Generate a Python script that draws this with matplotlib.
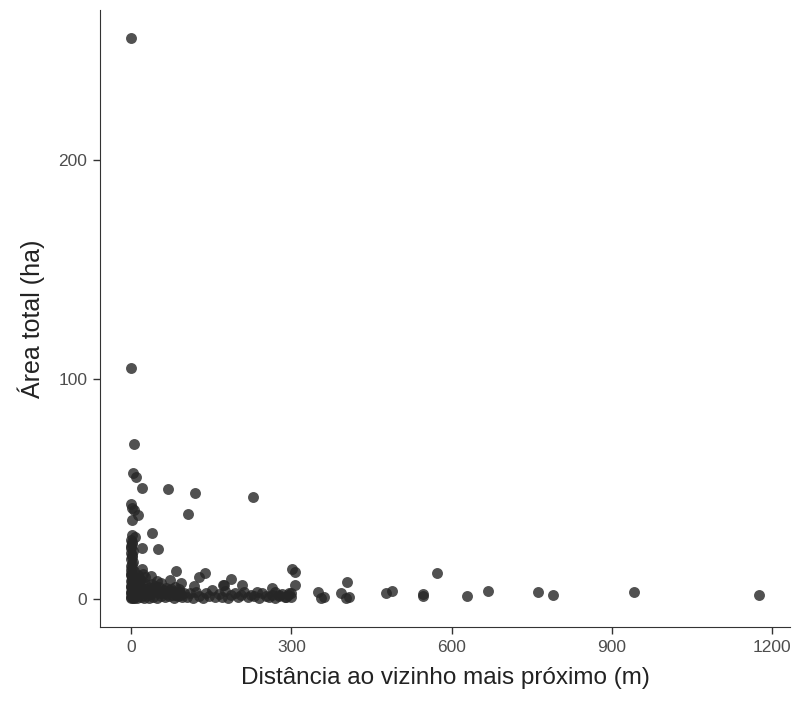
import matplotlib.pyplot as plt

plt.rcParams['font.family'] = ['Liberation Sans', 'DejaVu Sans']

# scattered points (distance m, area ha)
dist_out = [0, 0, 5, 3, 9, 21, 69, 120, 229, 106, 0, 2, 6, 13, 1, 39, 2, 7, 20, 51, 0,
            85, 138, 127, 188, 73, 94, 38, 207, 173, 117, 302, 306, 307, 174]
area_out = [255.6, 105, 70.6, 57.3, 55.4, 50.7, 50.1, 48.4, 46.6, 38.6, 43.3, 41.3, 40.5, 38.3, 36,
            29.8, 29, 28.4, 23.4, 22.6, 23, 12.6, 12, 10.2, 9.1, 8.5, 7.1, 10.5, 6.2, 6.2, 6,
            13.8, 12.1, 6.2, 6.4]

dist_far = [236, 264, 270, 296, 277, 290, 299, 349, 356, 362, 393, 402, 408, 404, 478, 488,
            547, 547, 572, 629, 668, 761, 789, 941, 1175]
area_far = [3.3, 4.9, 3.3, 2.6, 1.8, 1.0, 2.6, 3.0, 0.3, 1.0, 2.6, 0.6, 1.0, 7.9, 2.9, 3.8,
            2.1, 1.5, 11.7, 1.2, 3.8, 3.0, 1.7, 3.0, 1.7]

# dense column next to zero distance
dist_col = [0, 0, 1, 0, 2, 1, 0, 3, 0, 1, 2, 0, 1, 0, 2, 0, 1, 3, 0, 2, 1, 0, 4, 0, 1, 2, 0, 3, 1, 0,
            2, 0, 1, 3, 0]
area_col = [0.2, 1, 2, 3, 4, 5, 6, 7, 8, 9, 10, 11, 12, 13, 14, 15, 16, 17, 18, 19, 20, 21, 22, 24,
            25, 26, 27, 0.5, 1.5, 2.5, 3.5, 5.5, 7.5, 9.5, 11.5]

# dense patch up to ~100 m
dist_near = [5, 8, 12, 15, 18, 22, 25, 28, 6, 10, 14, 19, 24, 29, 7, 11, 16, 21, 27, 9, 13, 17, 23,
             5, 20, 26, 33, 37, 41, 45, 49, 53, 57, 61, 35, 39, 44, 48, 52, 56, 64, 68, 72, 76, 80,
             84, 88, 92, 96, 99, 66, 74, 82, 90, 31, 43, 59, 70, 78, 86, 94]
area_near = [0.5, 1.2, 0.3, 2.1, 0.8, 1.6, 0.4, 2.8, 3.5, 4.2, 3.1, 5.0, 3.8, 4.6, 6.2, 7.5, 5.8,
             8.1, 6.6, 9.4, 10.8, 9.0, 11.5, 12.5, 13.6, 10.2, 0.6, 2.2, 1.0, 3.4, 0.4, 2.6, 1.4,
             4.0, 5.2, 7.0, 6.1, 8.2, 5.5, 7.4, 0.8, 2.4, 1.1, 3.6, 0.5, 2.0, 1.3, 3.0, 0.7, 2.5,
             5.0, 4.6, 5.3, 4.4, 1.8, 4.8, 2.9, 3.9, 1.7, 3.2, 1.9]

# lower band 100-300 m
dist_mid = [104, 110, 116, 122, 128, 134, 140, 146, 152, 158, 164, 170, 176, 182, 188, 194, 200,
            206, 212, 218, 224, 230, 240, 246, 252, 258, 264, 270, 276, 282, 288, 294, 300]
area_mid = [1.0, 2.5, 0.4, 3.2, 1.5, 0.6, 2.8, 1.2, 4.0, 0.8, 2.2, 1.0, 3.5, 0.5, 1.8, 2.9, 0.9,
            1.6, 3.3, 0.7, 2.0, 1.1, 0.6, 2.6, 1.4, 0.8, 1.9, 0.5, 1.3, 2.4, 0.7, 1.8, 1.0]

x = dist_out + dist_far + dist_col + dist_near + dist_mid
y = area_out + area_far + area_col + area_near + area_mid

fig = plt.figure(figsize=(7.96, 7.04), dpi=100)
ax = fig.add_axes([100 / 796, 1 - 627 / 704, 690 / 796, 617 / 704])
ax.scatter(x, y, s=62, color='#262626', alpha=0.8, linewidths=0)

ax.set_xlim(-58, 1233)
ax.set_ylim(-12.8, 268.3)
ax.set_xticks([0, 300, 600, 900, 1200])
ax.set_yticks([0, 100, 200])
ax.tick_params(labelsize=12.5, labelcolor='#4d4d4d', color='#333333', length=5, width=1, pad=4)
for side in ['top', 'right']:
    ax.spines[side].set_visible(False)
for side in ['left', 'bottom']:
    ax.spines[side].set_color('#333333')
ax.set_xlabel('Distância ao vizinho mais próximo (m)', fontsize=17.5, color='#222222', labelpad=9)
ax.set_ylabel('Área total (ha)', fontsize=18, color='#222222', labelpad=10)

fig.savefig('out.png', dpi=100)
